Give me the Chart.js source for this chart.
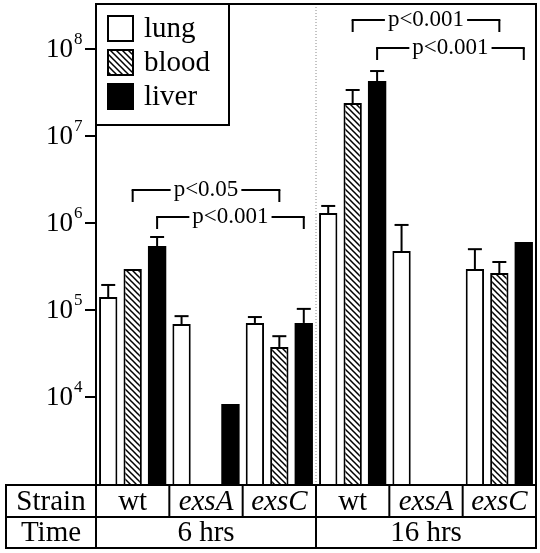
<!DOCTYPE html>
<html><head><meta charset="utf-8">
<script src="https://cdn.jsdelivr.net/npm/chart.js@4.4.1/dist/chart.umd.min.js"></script>
<style>html,body{margin:0;padding:0;background:#fff}canvas{display:block}</style>
</head><body><canvas id="c" width="540" height="553"></canvas>
<script>
var strains=['wt','exsA','exsC','wt','exsA','exsC'];
var strain_italic=[false,true,true,false,true,true];
var times=['6 hrs','16 hrs'];
var series=['lung','blood','liver'];
var lung=[1.41e5,6.9e4,7.1e4,1.30e6,4.76e5,2.96e5];
var lung_err=[1.94e5,8.5e4,8.3e4,1.57e6,9.5e5,5.0e5];
var blood=[2.96e5,null,3.76e4,2.39e7,null,2.66e5];
var blood_err=[null,null,5.0e4,3.38e7,null,3.56e5];
var liver=[5.44e5,8.3e3,7.1e4,4.29e7,null,6.05e5];
var liver_err=[6.9e5,null,1.03e5,5.58e7,null,null];
var yticks=[4,5,6,7,8];
var p_labels=['p<0.05','p<0.001','p<0.001','p<0.001'];
var p_from=[0,0,3,3];var p_to=[2,2,5,5];var p_series=[1,2,1,2];

/* layout / style */
var FONT='"Liberation Serif","Times New Roman",serif';
var p_y=[190,217,20,48];
var T_TOP=485,T_MID=517,T_BOT=548,T_LEFT=6;

var hatch=function(){var c=document.createElement('canvas');c.width=6;c.height=6;var g=c.getContext('2d');
	g.fillStyle='#fff';g.fillRect(0,0,6,6);g.strokeStyle='#000';g.lineWidth=1.5;
	g.beginPath();g.moveTo(-1,-1);g.lineTo(7,7);g.moveTo(-1,5);g.lineTo(1,7);g.moveTo(5,-1);g.lineTo(7,1);g.stroke();
	return g.createPattern(c,'repeat');}();
var fills=['#fff',hatch,'#000'];
var errs=[lung_err,blood_err,liver_err];

var line=function(g,x1,y1,x2,y2){g.beginPath();g.moveTo(x1,y1);g.lineTo(x2,y2);g.stroke();};

var deco={id:'deco',afterDatasetsDraw:function(chart){var g=chart.ctx;var a=chart.chartArea;var ys=chart.scales.y;var xs=chart.scales.x;
	g.save();g.strokeStyle='#000';g.fillStyle='#000';g.lineWidth=2;g.lineCap='butt';
	// error bars (upper only)
	for(let j=0;j<3;j++){let meta=chart.getDatasetMeta(j);
		for(let k=0;k<strains.length;k++){if(!errs[j][k]){continue}let el=meta.data[k];let ye=ys.getPixelForValue(errs[j][k]);
			line(g,el.x,el.y,el.x,ye);line(g,el.x-7,ye,el.x+7,ye);}}
	// dotted separator 6h / 16h
	let xsep=(xs.getPixelForValue(2)+xs.getPixelForValue(3))/2;
	g.save();g.strokeStyle='#888';g.lineWidth=1;g.setLineDash([1,2]);line(g,xsep,a.top,xsep,a.bottom);g.restore();
	// frame
	g.strokeRect(a.left,a.top,a.right-a.left,a.bottom-a.top);
	// y axis ticks + labels
	for(let e of yticks){let py=Math.round(ys.getPixelForValue(Math.pow(10,e)));
		line(g,a.left-11,py,a.left,py);
		g.textAlign='right';g.textBaseline='alphabetic';g.font='27px '+FONT;g.fillText('10',73,py+8);
		g.textAlign='left';g.font='17px '+FONT;g.fillText(String(e),74,py-5);}
	// legend
	g.lineWidth=2;g.strokeRect(a.left,a.top,133,121);
	for(let j=0;j<3;j++){let sy=16+j*34;g.fillStyle=fills[j];g.fillRect(108,sy,25,25);g.strokeRect(108,sy,25,25);
		g.fillStyle='#000';g.font='29px '+FONT;g.textAlign='left';g.textBaseline='alphabetic';g.fillText(series[j],144,sy+21);}
	// p-value brackets
	g.font='23px '+FONT;g.textAlign='center';g.textBaseline='alphabetic';
	for(let i=0;i<p_labels.length;i++){let m=chart.getDatasetMeta(p_series[i]);
		let x1=m.data[p_from[i]].x,x2=m.data[p_to[i]].x,y=p_y[i];let cx=(x1+x2)/2;let w=g.measureText(p_labels[i]).width/2+3;
		line(g,x1,y+12,x1,y);line(g,x1-1,y,cx-w,y);line(g,cx+w,y,x2+1,y);line(g,x2,y,x2,y+12);
		g.fillText(p_labels[i],cx,y+6);}
	// table
	line(g,T_LEFT,T_TOP,a.right,T_TOP);line(g,T_LEFT,T_MID,a.right,T_MID);line(g,T_LEFT-1,T_BOT,a.right+1,T_BOT);
	line(g,T_LEFT,T_TOP-1,T_LEFT,T_BOT);line(g,a.left,T_TOP,a.left,T_BOT);line(g,a.right,T_TOP,a.right,T_BOT);line(g,xsep,T_TOP,xsep,T_BOT);
	let step=xs.getPixelForValue(1)-xs.getPixelForValue(0);
	for(let k=1;k<strains.length;k++){if(k==3){continue}let bx=xs.getPixelForValue(k)-step/2;line(g,bx,T_TOP,bx,T_MID);}
	g.textAlign='center';g.textBaseline='alphabetic';g.font='29px '+FONT;
	g.fillText('Strain',(T_LEFT+a.left)/2,T_MID-7);g.fillText('Time',(T_LEFT+a.left)/2,T_BOT-7);
	for(let k=0;k<strains.length;k++){g.font=(strain_italic[k]?'italic ':'')+'29px '+FONT;g.fillText(strains[k],xs.getPixelForValue(k),T_MID-7);}
	g.font='29px '+FONT;
	g.fillText(times[0],(a.left+xsep)/2,T_BOT-7);g.fillText(times[1],(xsep+a.right)/2,T_BOT-7);
	g.restore();
}};

var chart=new Chart(document.getElementById('c').getContext('2d'),{type:'bar',
	data:{labels:strains,datasets:[
		{label:series[0],data:lung,backgroundColor:fills[0],borderColor:'#000',borderWidth:2},
		{label:series[1],data:blood,backgroundColor:fills[1],borderColor:'#000',borderWidth:2},
		{label:series[2],data:liver,backgroundColor:fills[2],borderColor:'#000',borderWidth:0}]},
	options:{responsive:false,animation:false,devicePixelRatio:1,
		layout:{padding:{left:96,top:4,right:4,bottom:68}},
		datasets:{bar:{categoryPercentage:1,barPercentage:0.75}},
		plugins:{legend:{display:false},tooltip:{enabled:false}},
		scales:{x:{display:false},y:{type:'logarithmic',display:false,min:974,max:3.29e8}}},
	plugins:[deco]});
</script>
</body></html>
